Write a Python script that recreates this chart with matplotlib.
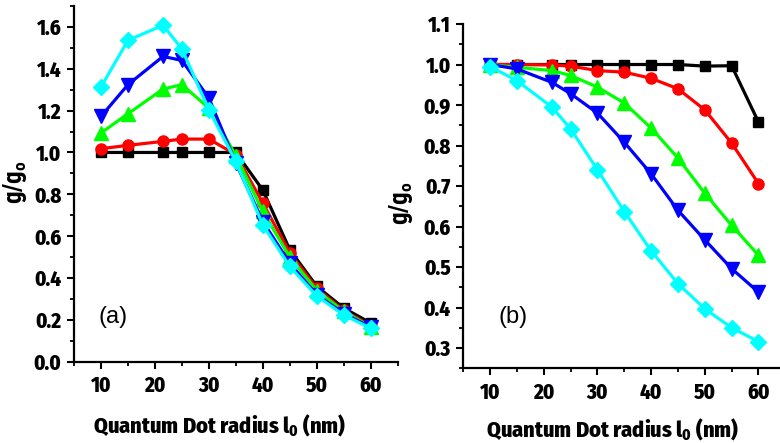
import numpy as np
import matplotlib
matplotlib.use('Agg')
import matplotlib.pyplot as plt
from matplotlib.ticker import MultipleLocator

plt.rcParams['font.family'] = ['Fira Sans Condensed', 'Roboto Condensed', 'DejaVu Sans']

radius = [10, 15, 21.5, 25, 30, 35, 40, 45, 50, 55, 60]

# panel (a)
a_black = [1.0, 1.0, 1.0, 1.0, 1.0, 1.0, 0.82, 0.535, 0.36, 0.256, 0.185]
a_red = [1.018, 1.034, 1.053, 1.064, 1.064, 0.99, 0.758, 0.52, 0.35, 0.245, 0.172]
a_green = [1.093, 1.185, 1.303, 1.324, 1.212, 0.985, 0.718, 0.50, 0.34, 0.24, 0.166]
a_blue = [1.172, 1.324, 1.459, 1.44, 1.26, 0.95, 0.67, 0.47, 0.32, 0.23, 0.165]
a_cyan = [1.313, 1.536, 1.608, 1.495, 1.204, 0.957, 0.654, 0.455, 0.314, 0.223, 0.16]

# panel (b)
b_black = [1.0, 1.0, 1.0, 1.0, 1.0, 1.0, 1.0, 1.0, 0.996, 0.997, 0.858]
b_red = [1.0, 1.0, 0.999, 0.996, 0.985, 0.981, 0.966, 0.94, 0.888, 0.806, 0.706]
b_green = [1.0, 0.993, 0.985, 0.973, 0.944, 0.905, 0.843, 0.769, 0.682, 0.603, 0.529]
b_blue = [1.0, 0.989, 0.956, 0.928, 0.88, 0.808, 0.73, 0.64, 0.567, 0.496, 0.438]
b_cyan = [0.995, 0.96, 0.895, 0.841, 0.74, 0.637, 0.54, 0.459, 0.397, 0.35, 0.316]

a_yticks = [0.0, 0.2, 0.4, 0.6, 0.8, 1.0, 1.2, 1.4, 1.6]
b_yticks = [0.3, 0.4, 0.5, 0.6, 0.7, 0.8, 0.9, 1.0, 1.1]
xticks = [10, 20, 30, 40, 50, 60]

styles = [('black', 's', 7.5), ('#ff0000', 'o', 8), ('#00ff00', '^', 10),
          ('#0000ff', 'v', 10), ('#00ffff', 'D', 8.5)]

fig = plt.figure(figsize=(7.8, 4.43), dpi=100)
ax1 = fig.add_axes([74/780, 81.3/443, 323.7/780, 355.7/443])
ax2 = fig.add_axes([463.3/780, 74.7/443, 322/780, 344.3/443])


def style_axis(ax, yticks):
    for s in ['top', 'right']:
        ax.spines[s].set_visible(False)
    for s in ['left', 'bottom']:
        ax.spines[s].set_linewidth(1.6)
    ax.set_xlim(5, 65)
    ax.set_xticks(xticks)
    ax.set_xticklabels([str(v) for v in xticks], fontweight='heavy', fontsize=15)
    ax.xaxis.set_minor_locator(MultipleLocator(5))
    ax.set_yticks(yticks)
    ax.set_yticklabels(['%.1f' % v for v in yticks], fontweight='heavy', fontsize=15)
    ax.tick_params(which='major', direction='out', length=5, width=1.5)
    ax.tick_params(axis='x', which='major', pad=5)
    ax.tick_params(axis='y', which='major', pad=4)
    ax.tick_params(which='minor', direction='out', length=3, width=1.3)
    ax.set_xlabel('Quantum Dot radius l$_\\mathregular{0}$ (nm)', fontsize=16,
                  fontweight='heavy')
    ax.set_ylabel('g/g$_\\mathregular{o}$', fontsize=18, fontweight='bold',
                  family=['Roboto Condensed', 'DejaVu Sans'])


for ys, (c, m, ms) in zip([a_black, a_red, a_green, a_blue, a_cyan], styles):
    ax1.plot(radius, ys, color=c, marker=m, markersize=ms, linewidth=2.3,
             markeredgecolor=c, clip_on=False)
for ys, (c, m, ms) in zip([b_black, b_red, b_green, b_blue, b_cyan], styles):
    ax2.plot(radius, ys, color=c, marker=m, markersize=ms, linewidth=2.3,
             markeredgecolor=c, clip_on=False)

style_axis(ax1, a_yticks)
style_axis(ax2, b_yticks)
ax1.set_ylim(0, 1.7)
ax1.yaxis.set_minor_locator(MultipleLocator(0.1))
ax2.set_ylim(0.25, 1.1)
ax2.yaxis.set_minor_locator(MultipleLocator(0.05))

ax1.yaxis.set_label_coords(-0.14, 0.505)
ax2.yaxis.set_label_coords(-0.15, 0.48)
ax1.xaxis.set_label_coords(0.45, -0.144)
ax2.xaxis.set_label_coords(0.465, -0.141)

ax1.text(9.5, 0.215, '(a)', fontsize=17, va='center', family=['Liberation Sans', 'DejaVu Sans'])
ax2.text(11.5, 0.376, '(b)', fontsize=17, va='center', family=['Liberation Sans', 'DejaVu Sans'])

fig.savefig('out.png', dpi=100)
